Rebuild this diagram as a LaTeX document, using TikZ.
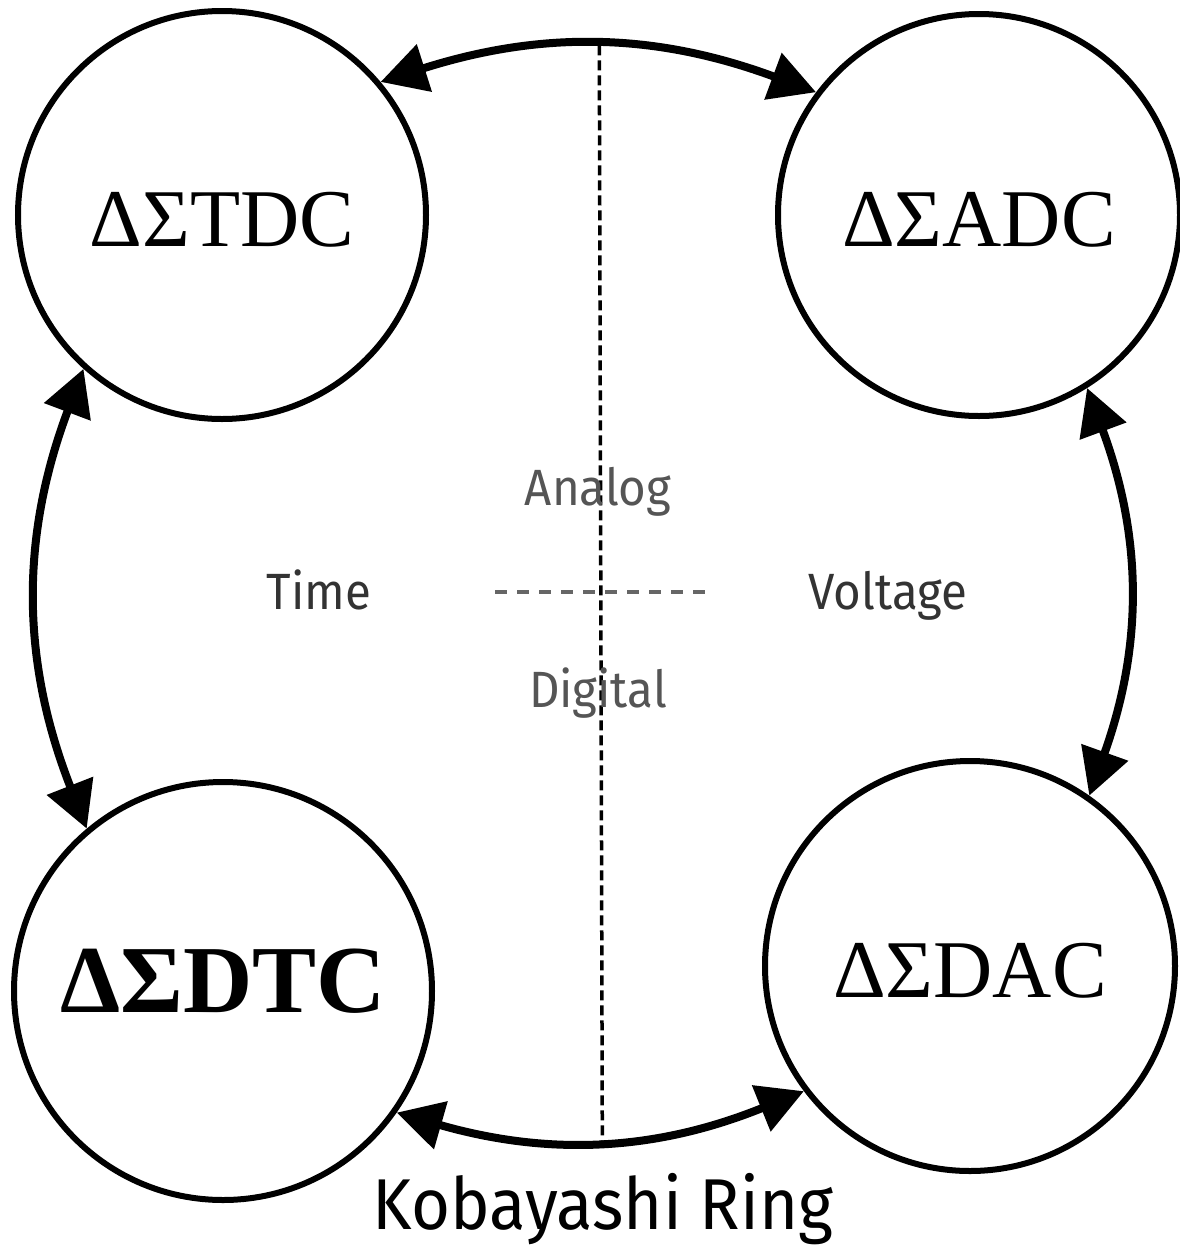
\documentclass[tikz,border=0pt]{standalone}
\usepackage{fontspec}
\setmainfont{Liberation Serif}
\newfontfamily\labfont{Fira Sans}[FakeStretch=0.93]
\usetikzlibrary{arrows.meta}
\definecolor{darktxt}{HTML}{333333}
\definecolor{midtxt}{HTML}{555555}
\definecolor{dashgray}{HTML}{666666}
\begin{document}
\begin{tikzpicture}[x=1pt,y=-1pt,
  conv/.style={circle, draw, line width=6pt, minimum size=#1, inner sep=0pt,
    font=\fontsize{82}{90}\selectfont, text height=62pt, text depth=0pt},
  link/.style={line width=8pt,
    {Triangle[length=46pt,width=48pt]}-{Triangle[length=46pt,width=48pt]}},
  vdash/.style={line width=3.5pt, dash pattern=on 10pt off 5pt},
  hdash/.style={line width=4pt, dashgray, dash pattern=on 12pt off 10pt},
  axislab/.style={font=\labfont\fontsize{51}{56}\selectfont, text=darktxt, inner sep=0pt, anchor=base},
  domlab/.style={font=\labfont\fontsize{51}{56}\selectfont, text=midtxt, inner sep=0pt, anchor=base},
  titlelab/.style={font=\labfont\fontsize{72}{80}\selectfont, text=black, inner sep=0pt, anchor=base}]
\useasboundingbox[fill=white] (0,0) rectangle (1180,1248);

\node[conv=408pt] (tdc) at (222,215) {ΔΣTDC};
\node[conv=402pt] (adc) at (979,215) {ΔΣADC};
\node[conv=418pt, font=\fontsize{96}{100}\selectfont\bfseries, text height=64pt, text depth=22pt] (dtc) at (223,991) {ΔΣDTC};
\node[conv=410pt] (dac) at (970,966) {ΔΣDAC};

\draw[link] (tdc.40) to[bend left=19] coordinate[pos=0.5] (topm) (adc.143);
\draw[link] (tdc.228) to[bend right=21] (dtc.130);
\draw[link] (adc.302) to[bend left=20] (dac.55);
\draw[link] (dtc.325) to[bend right=19] coordinate[pos=0.5] (botm) (dac.217);

\draw[vdash] (topm) -- (botm);

\coordinate (hl) at (495,592);
\coordinate (hr) at (705,592);
\draw[hdash] (hl) -- (hr);

\node[domlab] (analog) at (598,505) {Analog};
\node[domlab] (digital) at (598,707) {Digital};
\node[axislab] (time) at (319,609) {Time};
\node[axislab] (voltage) at (888,609) {Voltage};
\node[titlelab] (ring) at (603,1229) {Kobayashi Ring};
\end{tikzpicture}
\end{document}
